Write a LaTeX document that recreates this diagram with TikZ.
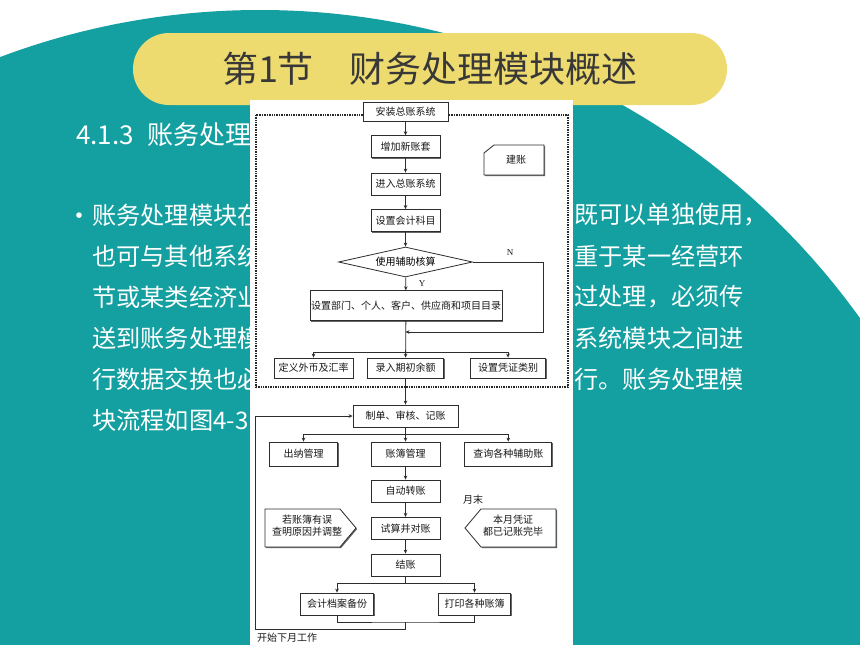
\documentclass[tikz,border=0pt]{standalone}
\usepackage{fontspec}
\setmainfont{Noto Sans CJK SC}
\newfontfamily\latinserif{Liberation Serif}
\usetikzlibrary{arrows.meta,shapes.geometric,shadows}
\definecolor{slideteal}{RGB}{20,159,160}
\definecolor{titleyellow}{RGB}{238,219,112}
\definecolor{titlegray}{RGB}{56,56,56}
\definecolor{chartline}{RGB}{45,45,45}

\begin{document}
\begin{tikzpicture}[x=1pt,y=-1pt,>={Stealth[length=4pt,width=3.6pt]}]
  \tikzset{box/.style={draw=chartline, fill=white, line width=0.8pt, minimum width=69pt, minimum height=22pt, inner sep=1pt, text=black!90, font=\fontsize{10}{12}\selectfont, boxshadow},
    boxshadow/.style={drop shadow={shadow xshift=1.1pt, shadow yshift=-1.1pt, fill=black!75, opacity=0.8}},
    decision/.style={diamond, draw=chartline, fill=white, line width=0.8pt, aspect=4.4, minimum width=134pt, minimum height=30pt, inner sep=0pt, font=\fontsize{10}{12}\selectfont},
    flow/.style={draw=chartline, line width=0.8pt},
    chartlabel/.style={inner sep=0pt, text=black!90, font=\fontsize{10}{12}\selectfont, align=center},
    slidetext/.style={text=white, inner sep=0pt, font=\fontsize{24.2}{29}\selectfont}}
  \useasboundingbox (0,0) rectangle (860,645);
  \fill[white] (0,0) rectangle (860,645);
  \begin{scope}
    \clip (0,0) rectangle (860,645);
    \fill[slideteal] (260,748) circle (738);
  \end{scope}

  % title bar
  \node[fill=titleyellow, rounded corners=35.9pt, minimum width=594pt, minimum height=72pt, text=titlegray, font=\fontsize{36}{40}\selectfont] (title) at (430,69) {第1节　财务处理模块概述};

  % slide text (partly under the chart)
  \node[slidetext, anchor=west, font=\fontsize{26}{30}\selectfont] (section) at (76,135) {4.1.3 \hspace{8pt}账务处理};
  \node[slidetext, font=\fontsize{26}{26}\selectfont] (bullet) at (79,219) {•};
  \node[slidetext, anchor=west] (left1) at (92,215) {账务处理模块在};
  \node[slidetext, anchor=west] (left2) at (92,256) {也可与其他系统};
  \node[slidetext, anchor=west] (left3) at (92,297) {节或某类经济业};
  \node[slidetext, anchor=west] (left4) at (92,338) {送到账务处理模};
  \node[slidetext, anchor=west] (left5) at (92,379) {行数据交换也必};
  \node[slidetext, anchor=west] (left6) at (92,420) {块流程如图4-3};
  \node[slidetext, anchor=east] (right1) at (768,215) {既可以单独使用，};
  \node[slidetext, anchor=east] (right2) at (744,256) {重于某一经营环};
  \node[slidetext, anchor=east] (right3) at (744,297) {过处理，必须传};
  \node[slidetext, anchor=east] (right4) at (744,338) {系统模块之间进};
  \node[slidetext, anchor=east] (right5) at (744,379) {行。账务处理模};

  % flow chart picture
  \fill[white] (250,100) rectangle (573,645);
  \draw[dash pattern=on 1pt off 0.7pt, line width=1.3pt, black!85] (256,115) rectangle (568,387);

  \node[box, minimum width=85pt, minimum height=19pt] (install) at (405.5,111.5) {安装总账系统};
  \node[box] (newset) at (405.5,146.7) {增加新账套};
  \node[box] (enter) at (405.5,184) {进入总账系统};
  \node[box] (subject) at (405.5,220.5) {设置会计科目};
  \node[decision] (aux) at (405.5,262) {使用辅助核算};
  \node[box, minimum width=187pt, minimum height=30pt] (catalog) at (406,305.7) {设置部门、个人、客户、供应商和项目目录};
  \node[box, minimum width=79pt, minimum height=20pt] (forex) at (313.5,368) {定义外币及汇率};
  \node[box, minimum width=76pt, minimum height=20pt] (opening) at (405.5,368) {录入期初余额};
  \node[box, minimum width=75pt, minimum height=20pt] (vtype) at (508,368) {设置凭证类别};
  \node[box, minimum width=105pt] (post) at (405.5,416) {制单、审核、记账};
  \node[box, minimum width=68pt, minimum height=24pt] (cashier) at (303.5,454) {出纳管理};
  \node[box, minimum height=24pt] (ledger) at (405.5,454) {账簿管理};
  \node[box, minimum width=87pt, minimum height=24pt] (query) at (508.3,454) {查询各种辅助账};
  \node[box] (transfer) at (405.5,491) {自动转账};
  \node[box] (trial) at (405.5,528.3) {试算并对账};
  \node[box] (closing) at (405.5,565) {结账};
  \node[box, minimum width=73pt] (archive) at (337,604) {会计档案备份};
  \node[box, minimum width=72pt] (printing) at (474.5,604) {打印各种账簿};

  % side notes
  \draw[flow, fill=white, boxshadow] (484,153) -- (494,145) -- (544,145) -- (544,175) -- (484,175) -- cycle;
  \node[chartlabel] (setup) at (516,160) {建账};
  \draw[flow, fill=white, boxshadow] (265,509) -- (340,509) -- (356,528) -- (340,547) -- (265,547) -- cycle;
  \node[chartlabel] (errornote) at (307,526) {若账簿有误\\查明原因并调整};
  \draw[flow, fill=white, boxshadow] (481,509) -- (556,509) -- (556,547) -- (481,547) -- (465,528) -- cycle;
  \node[chartlabel] (donenote) at (513,526) {本月凭证\\都已记账完毕};
  \node[chartlabel] (monthend) at (473,500) {月末};
  \node[chartlabel, anchor=west] (nextmonth) at (257,638) {开始下月工作};
  \node[chartlabel, font=\latinserif\fontsize{9}{10}\selectfont] (ylabel) at (422,284) {Y};
  \node[chartlabel, font=\latinserif\fontsize{9}{10}\selectfont] (nlabel) at (510,253) {N};

  % connectors
  \coordinate (ncorner) at (543,262);
  \coordinate (njoin) at (405.5,332);
  \coordinate (split1) at (405.5,352);
  \coordinate (split2) at (405.5,434);
  \coordinate (split3) at (405.5,583.3);
  \coordinate (merge) at (405.5,622);
  \coordinate (loopbottom) at (405.5,629);
  \coordinate (loopleft) at (255,629);
  \draw[flow,->] (install) -- (newset);
  \draw[flow,->] (newset) -- (enter);
  \draw[flow,->] (enter) -- (subject);
  \draw[flow,->] (subject) -- (aux);
  \draw[flow,->] (aux) -- (catalog);
  \draw[flow,->] (aux.east) -- (ncorner) |- (njoin);
  \draw[flow,->] (catalog) -- (opening);
  \draw[flow,->] (split1) -| (forex);
  \draw[flow,->] (split1) -| (vtype);
  \draw[flow,->] (opening) -- (post);
  \draw[flow] (post) -- (split2);
  \draw[flow,->] (split2) -| (cashier);
  \draw[flow,->] (split2) -- (ledger);
  \draw[flow,->] (split2) -| (query);
  \draw[flow,->] (ledger) -- (transfer);
  \draw[flow,->] (transfer) -- (trial);
  \draw[flow,->] (trial) -- (closing);
  \draw[flow] (closing) -- (split3);
  \draw[flow,->] (split3) -| (archive);
  \draw[flow,->] (split3) -| (printing);
  \draw[flow] (archive.south) |- (merge) -| (printing.south);
  \draw[flow,->] (merge) -- (loopbottom) -- (loopleft) |- (post);
\end{tikzpicture}
\end{document}
